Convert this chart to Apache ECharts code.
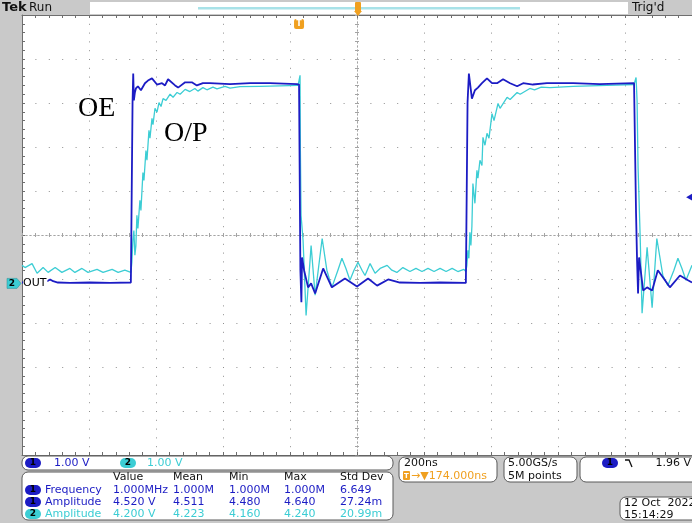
<!DOCTYPE html>
<html><head><meta charset="utf-8">
<script src="https://cdn.jsdelivr.net/npm/echarts@6/dist/echarts.min.js"></script>
<style>html,body{margin:0;padding:0;background:#c9c9c9}#c{width:692px;height:523px}</style>
</head><body><div id="c"></div><script>
// Acquisition: time in ns from the left edge of the record, level in volts
const ch1Trace = [
 [0,0.02],[54,0.02],[75,0.05],[84,0.09],[93,0.05],[107,0.02],[143,0.01],[203,0.02],[263,0.01],[325,0.02],
 [328,0.02],[330,4.11],[332,4.77],[334,4.16],[337,4.34],[340,4.43],[346,4.48],[355,4.39],[367,4.55],[376,4.61],[388,4.66],[403,4.52],[418,4.55],[427,4.50],[436,4.64],[457,4.50],[466,4.45],[487,4.57],[507,4.57],[522,4.50],[540,4.55],[561,4.55],[621,4.53],[681,4.55],[740,4.55],[821,4.53],
 [827,4.52],[831,0.30],[834,-0.43],[836,0.59],[842,0.30],[854,-0.09],[863,0.00],[875,-0.23],[899,0.34],[925,-0.09],[964,0.11],[1000,-0.07],[1033,0.11],[1060,-0.05],[1093,0.09],[1128,0.02],[1188,0.01],[1248,0.02],[1325,0.01],
 [1328,0.02],[1330,4.11],[1334,4.77],[1343,4.20],[1352,4.39],[1361,4.45],[1373,4.55],[1388,4.66],[1403,4.55],[1418,4.55],[1436,4.64],[1457,4.55],[1478,4.48],[1496,4.55],[1525,4.52],[1567,4.55],[1645,4.55],[1725,4.53],[1827,4.55],
 [1830,4.52],[1833,1.59],[1836,0.52],[1839,-0.23],[1842,0.59],[1848,0.23],[1854,-0.16],[1866,-0.09],[1881,-0.16],[1898,0.30],[1913,0.14],[1934,-0.09],[1964,0.18],[1988,0.07],[2000,0.02]
];
const ch2Trace = [
 [0,0.41],[9,0.36],[30,0.45],[45,0.23],[63,0.36],[78,0.25],[99,0.36],[119,0.25],[143,0.34],[158,0.25],[179,0.34],[197,0.25],[224,0.32],[242,0.25],[269,0.32],[287,0.25],[307,0.30],[325,0.25],
 [328,0.48],[331,0.98],[334,1.20],[337,0.64],[340,0.86],[343,1.55],[346,1.25],[352,1.89],[355,1.66],[361,2.52],[364,2.34],[370,3.02],[373,2.80],[379,3.48],[382,3.30],[388,3.75],[391,3.61],[397,3.98],[403,3.89],[409,4.11],[415,4.02],[421,4.20],[430,4.16],[442,4.30],[451,4.23],[463,4.34],[472,4.30],[487,4.41],[501,4.36],[516,4.43],[525,4.37],[540,4.45],[552,4.40],[570,4.46],[582,4.42],[606,4.48],[621,4.44],[651,4.47],[710,4.48],[770,4.49],[824,4.50],
 [830,4.73],[831,3.02],[833,1.55],[839,0.98],[848,-0.73],[863,0.86],[875,-0.27],[896,1.02],[910,0.30],[925,-0.09],[943,0.30],[955,0.57],[967,0.34],[979,0.07],[991,0.30],[1003,0.48],[1015,0.30],[1024,0.18],[1039,0.45],[1054,0.23],[1069,0.34],[1090,0.41],[1104,0.30],[1119,0.25],[1137,0.36],[1158,0.27],[1176,0.34],[1194,0.27],[1212,0.34],[1230,0.27],[1248,0.34],[1266,0.27],[1284,0.34],[1301,0.27],[1319,0.32],[1325,0.27],
 [1328,0.41],[1331,0.75],[1334,0.57],[1337,1.16],[1340,0.86],[1343,1.30],[1346,2.27],[1352,1.82],[1358,2.57],[1361,2.39],[1367,2.80],[1373,2.68],[1376,3.32],[1382,3.14],[1388,3.41],[1394,3.30],[1403,3.86],[1409,3.70],[1421,4.09],[1427,3.98],[1448,4.23],[1457,4.18],[1478,4.34],[1487,4.30],[1516,4.43],[1530,4.40],[1550,4.46],[1576,4.45],[1645,4.48],[1746,4.50],[1827,4.52],
 [1833,4.68],[1836,4.16],[1839,2.64],[1845,1.14],[1851,-0.68],[1866,0.82],[1881,-0.55],[1895,1.02],[1913,0.18],[1928,-0.05],[1946,0.30],[1958,0.57],[1970,0.34],[1982,0.07],[1994,0.30],[2000,0.41]
];

const traceNames = ['OE', 'O/P'];
const channelScale = ['1.00 V', '1.00 V'];
const measHeader = ['Value', 'Mean', 'Min', 'Max', 'Std Dev'];
const measChannel = [1, 1, 2];
const measName = ['Frequency', 'Amplitude', 'Amplitude'];
const measValues = [
  ['1.000MHz', '1.000M', '1.000M', '1.000M', '6.649'],
  ['4.520 V', '4.511', '4.480', '4.640', '27.24m'],
  ['4.200 V', '4.223', '4.160', '4.240', '20.99m']
];
const timePerDiv = '200ns';
const triggerDelay = '174.000ns';
const sampleRate = '5.00GS/s';
const recordLength = '5M points';
const triggerLevelText = '1.96 V';
const triggerLevel = 1.96;     // volts, CH1 falling edge
const triggerTime = 827;       // ns
const stampDate = '12 Oct  2022';
const stampTime = '15:14:29';

const BLUE = '#1c1cc4';
const CYAN = '#3ccdd4';
const ORANGE = '#f0a020';
const GRAT = '#8e8e8e';
const CENTER = '#a4a4a4';
const EDGE = '#6e6e6e';
const UI_FONT = '"DejaVu Sans", sans-serif';

const chart = echarts.init(document.getElementById('c'), null, {renderer: 'canvas'});

function gratAxis(extra) {
  return Object.assign({
    type: 'value', min: -5, max: 5, interval: 1, gridIndex: 0,
    axisLabel: {show: false},
    axisLine: {show: true, onZero: false, lineStyle: {color: EDGE, width: 1}},
    axisTick: {show: true, inside: true, length: 3, lineStyle: {color: EDGE}},
    minorTick: {show: true, splitNumber: 5, length: 3, lineStyle: {color: EDGE}},
    splitLine: {show: false}
  }, extra);
}
function centerAxis(extra) {
  return gratAxis(Object.assign({
    axisLine: {show: true, onZero: false, lineStyle: {color: CENTER, width: 1, type: [1, 3]}},
    axisTick: {show: true, inside: extra.inside, length: 2, lineStyle: {color: CENTER}},
    minorTick: {show: true, splitNumber: 5, length: 2, lineStyle: {color: CENTER}}
  }, extra));
}

chart.setOption({
  animation: false,
  backgroundColor: '#c9c9c9',
  grid: {left: 22, top: 15, width: 670, height: 440, show: true, backgroundColor: '#ffffff', borderWidth: 0},
  xAxis: [
    {type: 'value', min: 0, max: 2000, show: false},
    gratAxis({position: 'bottom', splitLine: {show: true, lineStyle: {color: GRAT, width: 1, type: [1, 7.8]}}}),
    gratAxis({position: 'top'}),
    centerAxis({position: 'bottom', offset: -220, inside: true}),
    centerAxis({position: 'bottom', offset: -220, inside: false})
  ],
  yAxis: [
    {type: 'value', min: -3.9, max: 6.1, show: false},
    gratAxis({position: 'left', splitLine: {show: true, lineStyle: {color: GRAT, width: 1, type: [1, 12.4]}}}),
    centerAxis({position: 'left', offset: -335, inside: true}),
    centerAxis({position: 'left', offset: -335, inside: false})
  ],
  series: [
    {
      type: 'line', name: 'CH2', data: ch2Trace, xAxisIndex: 0, yAxisIndex: 0,
      symbol: 'none', lineStyle: {color: CYAN, width: 1.3}, z: 3
    },
    {
      type: 'line', name: 'CH1', data: ch1Trace, xAxisIndex: 0, yAxisIndex: 0,
      symbol: 'none', lineStyle: {color: BLUE, width: 1.8}, z: 4,
      markPoint: {
        symbol: 'triangle', symbolSize: [8, 7], symbolRotate: 90, label: {show: false},
        itemStyle: {color: BLUE},
        data: [{coord: [1993, triggerLevel]}]
      }
    }
  ]
});

const y0 = chart.convertToPixel({yAxisIndex: 0}, 0);
const xTrig = chart.convertToPixel({xAxisIndex: 0}, triggerTime);

function box(x, y, w, h) {
  return {type: 'rect', shape: {x: x, y: y, width: w, height: h, r: 6}, style: {fill: '#ffffff', stroke: '#5a5a5a', lineWidth: 1}, z: 10};
}
function txt(x, y, s, color, font, align) {
  return {type: 'text', x: x, y: y, z: 12, style: {text: s, fill: color, font: font || ('11px ' + UI_FONT), align: align || 'left', verticalAlign: 'middle'}};
}
function pill(x, y, n) {
  const fill = n === 1 ? BLUE : CYAN;
  return [
    {type: 'rect', shape: {x: x, y: y - 5, width: 16, height: 10, r: 5}, style: {fill: fill}, z: 11},
    txt(x + 8, y, String(n), '#000000', 'bold 9px ' + UI_FONT, 'center')
  ];
}

const g = [];
// top status strip
g.push({type: 'rect', shape: {x: 90, y: 2, width: 538, height: 12}, style: {fill: '#ffffff'}, z: 5});
g.push({type: 'rect', shape: {x: 198, y: 7, width: 322, height: 2.5}, style: {fill: '#a8e2e8'}, z: 6});
g.push(txt(2, 8, 'Tek', '#111111', 'bold 13px ' + UI_FONT));
g.push(txt(29, 8, 'Run', '#111111', '12px ' + UI_FONT));
g.push(txt(632, 8, "Trig'd", '#111111', '12px ' + UI_FONT));
g.push({type: 'rect', shape: {x: 355, y: 2, width: 6, height: 10, r: 1}, style: {fill: ORANGE}, z: 7});
g.push({type: 'polygon', shape: {points: [[354, 11], [362, 11], [358, 16]]}, style: {fill: ORANGE}, z: 7});

// trigger position marker
g.push({type: 'rect', shape: {x: xTrig - 5, y: 19, width: 10, height: 10, r: 2}, style: {fill: ORANGE}, z: 7});
g.push(txt(xTrig, 24, 'T', '#ffffff', 'bold 8px ' + UI_FONT, 'center'));

// CH2 ground reference tag
g.push({type: 'polygon', shape: {points: [[7, y0 - 5], [17, y0 - 5], [21, y0], [17, y0 + 5], [7, y0 + 5]]}, style: {fill: CYAN, stroke: '#2a8a90', lineWidth: 0.5}, z: 8});
g.push(txt(12, y0, '2', '#000000', 'bold 9px ' + UI_FONT, 'center'));
g.push({type: 'text', x: 23, y: y0, z: 9, style: {text: 'OUT', fill: '#000000', font: '11px ' + UI_FONT, verticalAlign: 'middle', backgroundColor: '#ffffff', padding: [1, 1, 1, 0]}});

// trace names
g.push(txt(78, 109, traceNames[0], '#000000', '28px "Liberation Serif", serif'));
g.push(txt(164, 134, traceNames[1], '#000000', '28px "Liberation Serif", serif'));

// channel scale bar
g.push(box(22, 456, 371, 14));
g.push(...pill(25, 463, 1));
g.push(txt(54, 463, channelScale[0], BLUE));
g.push(...pill(120, 463, 2));
g.push(txt(147, 463, channelScale[1], CYAN));

// measurement table
g.push(box(22, 472, 371, 48));
const colX = [113, 173, 229, 284, 340];
measHeader.forEach((h, i) => g.push(txt(colX[i], 477, h, '#111111')));
const rowY = [490, 502, 514];
measName.forEach((name, r) => {
  const col = measChannel[r] === 1 ? BLUE : CYAN;
  g.push(...pill(25, rowY[r], measChannel[r]));
  g.push(txt(45, rowY[r], name, col));
  measValues[r].forEach((v, i) => g.push(txt(colX[i], rowY[r], v, col)));
});

// timebase
g.push(box(399, 457, 98, 25));
g.push(txt(404, 463, timePerDiv, '#111111'));
g.push({type: 'rect', shape: {x: 403, y: 471, width: 7, height: 9, r: 1}, style: {fill: ORANGE}, z: 11});
g.push(txt(406.5, 476, 'T', '#ffffff', 'bold 7px ' + UI_FONT, 'center'));
g.push(txt(411, 476, '\u2192\u25BC' + triggerDelay, ORANGE));

// acquisition
g.push(box(504, 457, 73, 25));
g.push(txt(508, 463, sampleRate, '#111111'));
g.push(txt(508, 476, recordLength, '#111111'));

// trigger setup
g.push(box(580, 457, 130, 25));
g.push(...pill(602, 463, 1));
g.push({type: 'polyline', shape: {points: [[625, 460], [629, 460], [632, 467]]}, style: {stroke: '#111111', lineWidth: 1.3, fill: null}, z: 12});
g.push(txt(691, 463, triggerLevelText, '#111111', null, 'right'));

// date stamp
g.push(box(620, 497, 90, 23));
g.push(txt(624, 503, stampDate, '#111111'));
g.push(txt(624, 515, stampTime, '#111111'));

chart.setOption({graphic: {elements: g}});
</script></body></html>
